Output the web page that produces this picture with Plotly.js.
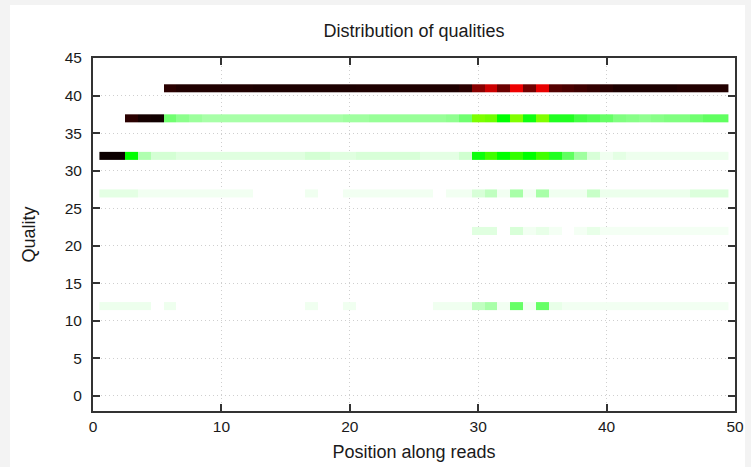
<!DOCTYPE html>
<html>
<head>
<meta charset="utf-8">
<script src="https://cdn.plot.ly/plotly-3.0.1.min.js"></script>
<style>
  html, body { margin: 0; padding: 0; background: #f3f3f3; }
  #chart { width: 751px; height: 467px; }
</style>
</head>
<body>
<div id="chart"></div>
<script>
// Positions along reads (cycle numbers)
const positions = [1,2,3,4,5,6,7,8,9,10,11,12,13,14,15,16,17,18,19,20,21,22,23,24,25,
                   26,27,28,29,30,31,32,33,34,35,36,37,38,39,40,41,42,43,44,45,46,47,48,49];

// Quality levels present in the reads
const qualities = [12, 22, 27, 32, 37, 41];

// Relative density per position for each quality level (null = no bases)
const q12 = [0.018,0.018,0.018,0.018,null,0.017,null,null,null,null,null,null,null,null,null,null,
             0.015,null,null,0.015,null,null,null,null,null,null,0.015,0.015,0.015,
             0.062,0.085,0.013,0.15,0.013,0.15,0.023,
             0.013,0.013,0.013,0.013,0.013,0.013,0.013,0.013,0.013,0.013,0.013,0.013,0.013];

const q22 = [null,null,null,null,null,null,null,null,null,null,null,null,null,null,null,
             null,null,null,null,null,null,null,null,null,null,null,null,null,null,
             0.030,0.030,null,0.038,0.013,0.023,0.011,null,0.011,0.023,
             0.011,0.011,0.011,0.011,0.011,0.011,0.011,0.011,0.011,0.011];

const q27 = [0.026,0.026,0.026,0.013,0.013,0.013,0.013,0.013,0.013,0.013,0.013,0.013,
             null,null,null,null,0.015,null,null,
             0.013,0.013,0.013,0.013,0.013,0.013,0.013,null,0.013,0.013,
             0.038,0.062,0.013,0.085,0.013,0.085,0.015,0.015,0.015,0.054,
             0.019,0.019,0.019,0.019,0.019,0.019,0.019,0.034,0.034,0.034];

const q32 = [0.98,0.98,0.25,0.077,0.042,0.042,
             0.030,0.030,0.030,0.030,0.030,0.030,0.030,0.030,0.030,0.030,
             0.042,0.042,0.030,0.030,0.038,0.038,0.038,0.038,0.038,0.026,0.026,0.026,0.046,
             0.238,0.325,0.25,0.31,0.25,0.325,0.219,0.156,0.093,0.038,0.015,0.026,
             0.017,0.017,0.017,0.017,0.017,0.017,0.017,0.017];

const q37 = [null,null,0.926,0.963,0.97,0.14,0.113,0.097,
             0.085,0.085,0.085,0.085,0.085,0.085,0.085,0.085,0.085,0.085,0.085,
             0.093,0.093,0.101,0.101,0.101,0.101,0.101,0.101,0.109,0.14,
             0.395,0.38,0.25,0.40,0.234,0.40,0.219,0.219,0.183,0.167,0.15,
             0.125,0.117,0.109,0.117,0.125,0.125,0.14,0.156,0.156];

const q41 = [null,null,null,null,null,0.926,
             0.944,0.944,0.944,0.944,0.944,0.944,
             0.951,0.951,0.951,0.951,0.951,0.951,0.951,0.951,
             0.947,0.947,0.947,0.947,0.947,0.947,0.947,0.947,0.926,
             0.76,0.64,0.81,0.58,0.80,0.59,0.85,0.87,0.89,0.91,0.93,
             0.95,0.95,0.95,0.95,0.95,0.94,0.94,0.94,0.94];

const rows = [q12, q22, q27, q32, q37, q41];

const colorscale = [
  [0.00, '#ffffff'],
  [0.25, '#00ff00'],
  [0.40, '#80ff00'],
  [0.55, '#ff0000'],
  [1.00, '#000000']
];

const traces = qualities.map((q, i) => ({
  type: 'heatmap',
  x: positions,
  y: [q],
  z: [rows[i]],
  colorscale: colorscale,
  zmin: 0,
  zmax: 1,
  showscale: false,
  zsmooth: false,
  hoverongaps: false
}));

const font = 'Liberation Sans, Arial, sans-serif';
const axisCommon = {
  showline: true,
  linecolor: '#333333',
  linewidth: 2,
  mirror: 'ticks',
  ticks: 'inside',
  ticklen: 7,
  tickwidth: 2,
  tickcolor: '#333333',
  showgrid: true,
  gridcolor: '#cfcfcf',
  griddash: '1px,3px',
  gridwidth: 1,
  zeroline: false,
  tickfont: { family: font, size: 15.5, color: '#1a1a1a' }
};

const W = 642, H = 353, L = 93, T = 58;
const layout = {
  width: 751,
  height: 467,
  paper_bgcolor: '#f3f3f3',
  plot_bgcolor: '#ffffff',
  margin: { l: L, r: 751 - L - W, t: T, b: 467 - T - H },
  showlegend: false,
  title: {
    text: 'Distribution of qualities',
    font: { family: font, size: 18, color: '#1a1a1a' },
    x: 0.5, xref: 'paper', xanchor: 'center',
    y: 1 - 31 / 467, yref: 'container', yanchor: 'middle'
  },
  xaxis: Object.assign({}, axisCommon, {
    range: [0, 50],
    tick0: 0, dtick: 10,
    title: { text: 'Position along reads', font: { family: font, size: 18, color: '#1a1a1a' }, standoff: 12 }
  }),
  yaxis: Object.assign({}, axisCommon, {
    range: [-2, 45],
    tick0: 0, dtick: 5,
    ticklabelstandoff: 6,
    title: { text: 'Quality', font: { family: font, size: 18, color: '#1a1a1a' }, standoff: 24 }
  }),
  shapes: [{
    type: 'rect', xref: 'paper', yref: 'paper', layer: 'below',
    x0: (10 - L) / W, x1: (745 - L) / W,
    y0: (T + H - 470) / H, y1: (T + H - 5) / H,
    fillcolor: '#ffffff', line: { width: 0 }
  }]
};

Plotly.newPlot('chart', traces, layout, { staticPlot: true, displayModeBar: false });
</script>
</body>
</html>
